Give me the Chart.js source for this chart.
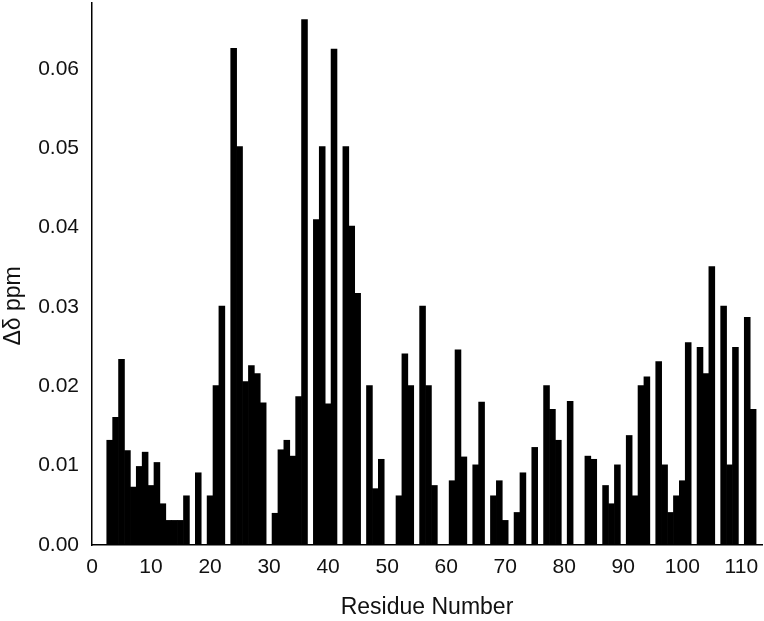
<!DOCTYPE html>
<html>
<head>
<meta charset="utf-8">
<script src="https://cdn.jsdelivr.net/npm/chart.js@4"></script>
<style>
    html, body { margin: 0; padding: 0; background: #fff; }
    #wrap { width: 764px; height: 621px; }
</style>
</head>
<body>
<div id="wrap"><canvas id="myChart" width="764" height="621"></canvas></div>
<script>
// residue numbers along the sequence
const residues = [
    3, 4, 5, 6, 7, 8, 9, 10, 11, 12, 13, 14, 15, 16, 17, 18, 19, 20,
    21, 22, 23, 24, 25, 26, 27, 28, 29, 30, 31, 32, 33, 34, 35, 36, 37, 38, 39, 40,
    41, 42, 43, 44, 45, 46, 47, 48, 49, 50, 51, 52, 53, 54, 55, 56, 57, 58, 59, 60,
    61, 62, 63, 64, 65, 66, 67, 68, 69, 70, 71, 72, 73, 74, 75, 76, 77, 78, 79, 80,
    81, 82, 83, 84, 85, 86, 87, 88, 89, 90, 91, 92, 93, 94, 95, 96, 97, 98, 99, 100,
    101, 102, 103, 104, 105, 106, 107, 108, 109, 110, 111, 112
];

// chemical shift perturbation (ppm), one per residue above
const shifts = [
    0.0132, 0.0161, 0.0234, 0.0119, 0.0073, 0.0099, 0.0117, 0.0075, 0.0104, 0.0052, 0.0031, 0.0031, 0.0031, 0.0062, 0, 0.0091, 0, 0.0062,
    0.0201, 0.0301, 0, 0.0626, 0.0502, 0.0206, 0.0226, 0.0216, 0.0179, 0, 0.0040, 0.0120, 0.0132, 0.0112, 0.0187, 0.0662, 0, 0.0410, 0.0502, 0.0178,
    0.0625, 0, 0.0502, 0.0402, 0.0317, 0, 0.0201, 0.0071, 0.0108, 0, 0, 0.0062, 0.0241, 0.0201, 0, 0.0301, 0.0201, 0.0075, 0, 0,
    0.0081, 0.0246, 0.0111, 0, 0.0101, 0.0180, 0, 0.0062, 0.0081, 0.0031, 0, 0.0041, 0.0091, 0, 0.0123, 0, 0.0201, 0.0171, 0.0132, 0,
    0.0181, 0, 0, 0.0112, 0.0108, 0, 0.0075, 0.0052, 0.0101, 0, 0.0138, 0.0062, 0.0201, 0.0212, 0, 0.0231, 0.0101, 0.0041, 0.0062, 0.0081,
    0.0255, 0, 0.0249, 0.0216, 0.0351, 0, 0.0301, 0.0101, 0.0249, 0, 0.0287, 0.0171
];

const xTicks = [0, 10, 20, 30, 40, 50, 60, 70, 80, 90, 100, 110];
const yTicks = [0, 0.01, 0.02, 0.03, 0.04, 0.05, 0.06];

const fontFamily = '"Liberation Sans", Arial, sans-serif';
const textColor = '#111';

function displayGraph() {
    const ctx = document.getElementById('myChart').getContext('2d');
    const points = residues.map((r, i) => ({ x: r, y: shifts[i] }));

    new Chart(ctx, {
        type: 'bar',
        data: {
            datasets: [{
                label: 'Δδ',
                data: points,
                backgroundColor: '#000',
                borderWidth: 0,
                barPercentage: 1,
                categoryPercentage: 1
            }]
        },
        options: {
            responsive: false,
            animation: false,
            layout: {
                padding: { left: 0, right: 2, top: 3, bottom: 0 }
            },
            plugins: {
                legend: { display: false },
                tooltip: { enabled: false }
            },
            scales: {
                x: {
                    type: 'linear',
                    offset: false,
                    min: 0,
                    max: 113.5,
                    grid: { display: false, drawTicks: false },
                    border: { display: true, color: '#000', width: 1.5 },
                    afterBuildTicks: axis => {
                        axis.ticks = xTicks.map(v => ({ value: v }));
                    },
                    afterFit: axis => {
                        axis.height = 76;
                        axis.paddingLeft = 0;
                        axis.paddingRight = 0;
                    },
                    ticks: {
                        padding: 10,
                        color: textColor,
                        maxRotation: 0,
                        font: { family: fontFamily, size: 21 }
                    },
                    title: {
                        display: true,
                        text: 'Residue Number',
                        color: textColor,
                        padding: { top: 0, bottom: 0 },
                        font: { family: fontFamily, size: 23 }
                    }
                },
                y: {
                    min: 0,
                    max: 0.0683,
                    grid: { display: false, drawTicks: false },
                    border: { display: true, color: '#000', width: 1.5 },
                    afterBuildTicks: axis => {
                        axis.ticks = yTicks.map(v => ({ value: v }));
                    },
                    afterFit: axis => {
                        axis.width = 92;
                        axis.paddingTop = 0;
                        axis.paddingBottom = 0;
                    },
                    ticks: {
                        padding: 13,
                        color: textColor,
                        font: { family: fontFamily, size: 21 },
                        callback: v => v.toFixed(2)
                    },
                    title: {
                        display: true,
                        // trailing no-break spaces push the label a bit below the middle, as in the figure
                        text: 'Δδ ppm' + '\u00a0'.repeat(10),
                        color: textColor,
                        padding: { top: 0, bottom: 0 },
                        font: { family: fontFamily, size: 23 }
                    }
                }
            }
        }
    });
}

displayGraph();
</script>
</body>
</html>
